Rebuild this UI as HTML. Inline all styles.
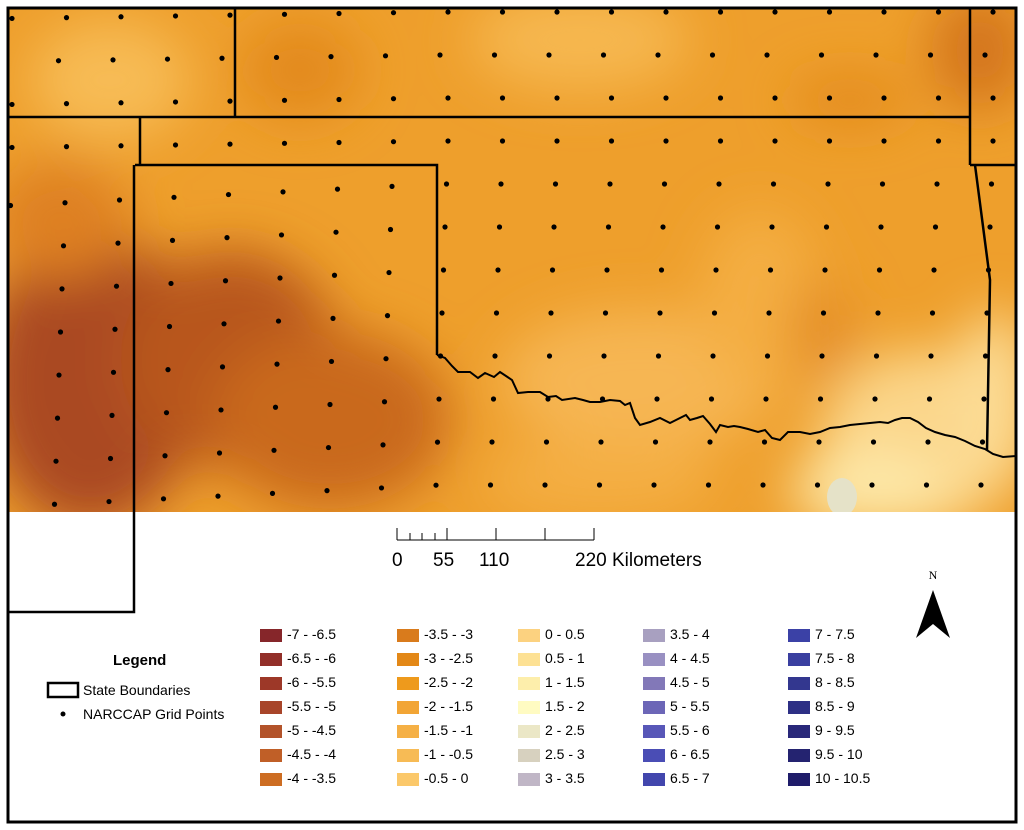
<!DOCTYPE html>
<html><head><meta charset="utf-8"><style>
body{margin:0;background:#fff;font-family:"Liberation Sans",sans-serif}
#wrap{position:relative;width:1024px;height:830px;overflow:hidden}
.t{position:absolute;font-size:14px;color:#000;white-space:nowrap}
</style></head><body>
<div id="wrap">
<svg id="svg" width="1024" height="830" xmlns="http://www.w3.org/2000/svg">
<defs>
<filter id="bl" x="-50%" y="-50%" width="200%" height="200%"><feGaussianBlur stdDeviation="26"/></filter>
<clipPath id="mc"><rect x="8" y="8" width="1008" height="504"/></clipPath>
</defs>
<g clip-path="url(#mc)">
<rect x="8" y="8" width="1008" height="504" fill="#ee9f2c"/>
<g filter="url(#bl)">
<ellipse cx="110" cy="80" rx="80" ry="60" fill="#f7bb55"/>
<ellipse cx="300" cy="70" rx="60" ry="50" fill="#e38a1e"/>
<ellipse cx="580" cy="40" rx="110" ry="50" fill="#f6b74f"/>
<ellipse cx="980" cy="50" rx="50" ry="60" fill="#d4761f"/>
<ellipse cx="850" cy="100" rx="60" ry="25" fill="#e38a1e"/>
<ellipse cx="90" cy="380" rx="110" ry="150" fill="#aa4a20"/>
<ellipse cx="230" cy="360" rx="110" ry="110" fill="#b8571f"/>
<ellipse cx="330" cy="420" rx="120" ry="90" fill="#c9691f"/>
<ellipse cx="60" cy="220" rx="70" ry="60" fill="#de8021"/>
<ellipse cx="640" cy="380" rx="140" ry="70" fill="#f6b652"/>
<ellipse cx="760" cy="300" rx="60" ry="90" fill="#f4ae42"/>
<ellipse cx="600" cy="480" rx="120" ry="40" fill="#f4ae42"/>
<ellipse cx="920" cy="440" rx="100" ry="90" fill="#fbd68a"/>
<ellipse cx="870" cy="490" rx="80" ry="40" fill="#fde8a8"/>
<ellipse cx="995" cy="400" rx="40" ry="90" fill="#fcdc95"/>
<ellipse cx="820" cy="330" rx="30" ry="50" fill="#e48d25"/>
</g>
<ellipse cx="842" cy="497" rx="15" ry="19" fill="#e5e2c8"/>
</g>
<g id="pts"></g>
<g fill="none" stroke="#000" stroke-width="2.5">
<polyline points="8,117 970,117"/>
<line x1="235" y1="8" x2="235" y2="117"/>
<line x1="970" y1="8" x2="970" y2="165"/>
<line x1="970" y1="165" x2="1016" y2="165"/>
<line x1="140" y1="117" x2="140" y2="165"/>
<polyline points="135,165 437,165 437,355"/>
<polyline points="975,165 990,280 987,450"/>
<polyline points="134,165 134,612 8,612"/>
<polyline stroke-width="2" points="437,355 445,358 452,366 458,372 470,372 478,378 485,373 494,377 500,372 506,376 512,380 518,393 528,392 540,392 548,397 556,396 562,400 575,398 583,400 590,402 600,402 610,400 620,401 625,405 630,403 635,418 640,425 650,422 660,418 670,423 676,420 686,415 690,420 697,418 703,416 710,424 716,432 720,425 728,427 734,426 740,427 748,429 758,432 765,430 772,438 780,440 788,432 800,432 810,434 820,432 830,428 840,427 850,425 860,424 870,423 880,422 888,423 895,420 902,418 910,418 918,422 926,428 935,432 945,435 955,437 965,441 975,446 985,449 993,454 1003,457 1016,456"/>
</g>
<rect x="8" y="8" width="1008" height="814" fill="none" stroke="#000" stroke-width="3"/>
<g stroke="#000" stroke-width="1">
<line x1="397" y1="540" x2="594" y2="540"/>
<line x1="397" y1="528" x2="397" y2="540"/><line x1="410" y1="533" x2="410" y2="540"/><line x1="422" y1="533" x2="422" y2="540"/><line x1="435" y1="533" x2="435" y2="540"/><line x1="447" y1="528" x2="447" y2="540"/><line x1="496" y1="528" x2="496" y2="540"/><line x1="545" y1="528" x2="545" y2="540"/><line x1="594" y1="528" x2="594" y2="540"/>
</g>
<g>
<polygon points="933,590 916,638 933,624" fill="#000"/>
<polygon points="933,590 950,638 933,624" fill="#000"/>
<text x="933" y="579" font-size="12" font-family="Liberation Serif" text-anchor="middle">N</text>
</g>
<rect x="48" y="683" width="30" height="14" fill="none" stroke="#000" stroke-width="2.5"/>
<circle cx="63" cy="714" r="2.5" fill="#000"/>
</svg>
<div class="t" style="left:392px;top:550px;font-size:19px">0</div>
<div class="t" style="left:433px;top:550px;font-size:19px">55</div>
<div class="t" style="left:479px;top:550px;font-size:19px">110</div>
<div class="t" style="left:575px;top:550px;font-size:19px">220 Kilometers</div>
<div class="t" style="left:113px;top:652px;font-weight:bold;font-size:15px">Legend</div>
<div class="t" style="left:83px;top:682px">State Boundaries</div>
<div class="t" style="left:83px;top:706px">NARCCAP Grid Points</div>
<div id="leg"></div>
</div>
<script>
const labels=[["-7 - -6.5","-6.5 - -6","-6 - -5.5","-5.5 - -5","-5 - -4.5","-4.5 - -4","-4 - -3.5"],
["-3.5 - -3","-3 - -2.5","-2.5 - -2","-2 - -1.5","-1.5 - -1","-1 - -0.5","-0.5 - 0"],
["0 - 0.5","0.5 - 1","1 - 1.5","1.5 - 2","2 - 2.5","2.5 - 3","3 - 3.5"],
["3.5 - 4","4 - 4.5","4.5 - 5","5 - 5.5","5.5 - 6","6 - 6.5","6.5 - 7"],
["7 - 7.5","7.5 - 8","8 - 8.5","8.5 - 9","9 - 9.5","9.5 - 10","10 - 10.5"]];
const colors=[["#86262a","#922f29","#9d3828","#a8452a","#b3532a","#c05f27","#cd6d22"],
["#d97b1c","#e38817","#ee9a1c","#f2a535","#f5b045","#f7bb55","#fbc86a"],
["#fcd280","#fde194","#fdeeab","#fffbc2","#ebe7c6","#d7d1bf","#c0b6c6"],
["#a8a0c0","#9990c2","#8278b8","#6c66b7","#5857b8","#4a4db5","#4246ad"],
["#3b41a6","#3a3fa0","#33378f","#2d2f85","#29287a","#242370","#1f1c6a"]];
const colX=[260,397,518,643,788];
const leg=document.getElementById('leg');
labels.forEach((col,c)=>col.forEach((lab,r)=>{
 const s=document.createElement('div');
 
 
 s.style.cssText=`position:absolute;left:${colX[c]}px;top:${629+r*24}px;width:22px;height:13px;background:${colors[c][r]}`;
 leg.appendChild(s);
 const t=document.createElement('div');
 t.className='t';
 
 
 t.style.cssText=`left:${colX[c]+27}px;top:${626+r*24}px`;
 t.textContent=lab;
 leg.appendChild(t);
}));
const g=document.getElementById('pts');
for(let r=0;r<12;r++){
 const y=12+r*43;
 for(let c=-1;c<20;c++){
  const x=12+c*54.5+ (r<3? (r%2?-8:0) : (r-3)*-1.5);
  const yy=y+ (x<440? (440-x)*0.05*(r>3?1:0.3):0);
  if(x<10||x>1012||yy<10||yy>514)continue;
  const d=document.createElementNS('http://www.w3.org/2000/svg','circle');
  
  
  d.setAttribute('cx',x);d.setAttribute('cy',yy);d.setAttribute('r',2.6);d.setAttribute('fill','#000');
  g.appendChild(d);
 }
}
</script>
</body></html>
